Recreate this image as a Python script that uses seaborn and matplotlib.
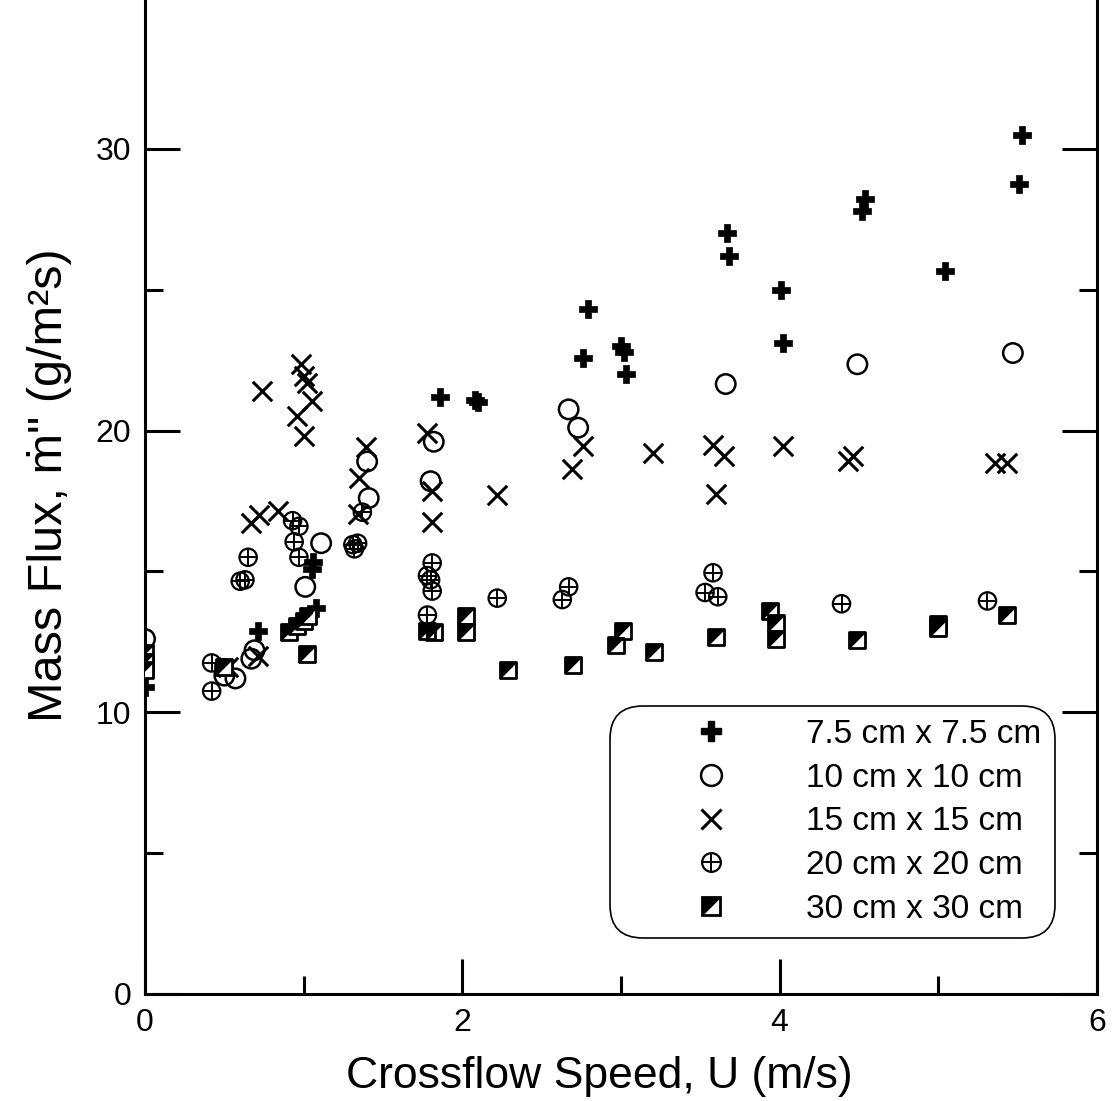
import matplotlib
matplotlib.use("Agg")
import matplotlib.pyplot as plt
import seaborn as sns
import numpy as np
import pandas as pd
from matplotlib.lines import Line2D
from matplotlib.path import Path
from matplotlib.ticker import FixedLocator

# ---- data ----
plus_x = [0, 0.49, 0.71, 1.05, 1.06, 1.08, 1.86, 2.08, 2.10, 2.76, 2.79, 3.00, 3.02, 3.03,
          3.67, 3.68, 4.01, 4.02, 4.52, 4.54, 5.04, 5.51, 5.53]
plus_y = [10.9, 11.6, 12.9, 15.1, 15.35, 13.7, 21.2, 21.07, 21.0, 22.56, 24.3, 23.0, 22.8, 22.0,
          27.0, 26.2, 25.0, 23.1, 27.8, 28.2, 25.65, 28.75, 30.5]

circ_x = [0, 0.50, 0.57, 0.67, 0.69, 1.01, 1.11, 1.40, 1.41, 1.80, 1.82, 2.67, 2.73, 3.66, 4.49, 5.47]
circ_y = [12.6, 11.3, 11.2, 11.9, 12.2, 14.45, 16.0, 18.9, 17.6, 18.2, 19.6, 20.75, 20.1, 21.65, 22.35, 22.75]

cross_x = [0.52, 0.71, 0.67, 0.72, 0.84, 0.74, 0.98, 1.0, 1.02, 1.05, 0.96, 1.0, 1.34, 1.35, 1.39,
           1.78, 1.81, 1.81, 2.22, 2.69, 2.76, 3.20, 3.58, 3.65, 3.60, 4.02, 4.43, 4.46, 5.36, 5.43]
cross_y = [11.6, 12.0, 16.7, 17.0, 17.15, 21.4, 22.35, 21.95, 21.7, 21.05, 20.5, 19.8, 17.05, 18.3, 19.4,
           19.9, 17.85, 16.75, 17.7, 18.65, 19.45, 19.2, 19.5, 19.1, 17.75, 19.45, 18.9, 19.1, 18.85, 18.85]

oplus_x = [0.42, 0.42, 0.60, 0.63, 0.65, 0.93, 0.97, 0.94, 0.97, 1.31, 1.32, 1.34, 1.37, 1.78, 1.81,
           1.80, 1.81, 1.78, 2.22, 2.63, 2.67, 3.53, 3.58, 3.61, 4.39, 5.31]
oplus_y = [11.75, 10.75, 14.65, 14.7, 15.5, 16.8, 16.6, 16.05, 15.5, 15.95, 15.8, 16.0, 17.1, 14.85, 15.3,
           14.7, 14.3, 13.45, 14.05, 14.0, 14.45, 14.25, 14.95, 14.1, 13.85, 13.95]

sq_x = [0, 0, 0, 0.50, 0.91, 0.96, 1.0, 1.03, 1.02, 1.82, 1.78, 2.02, 2.02, 2.29, 2.70, 2.97, 3.01,
        3.21, 3.60, 3.94, 3.98, 3.98, 4.49, 5.00, 5.00, 5.43]
sq_y = [12.1, 11.8, 11.5, 11.6, 12.85, 13.05, 13.25, 13.4, 12.07, 12.85, 12.9, 13.4, 12.85, 11.5, 11.67,
        12.4, 12.9, 12.15, 12.67, 13.6, 13.17, 12.6, 12.55, 13.13, 13.0, 13.45]

labels = ["7.5 cm x 7.5 cm", "10 cm x 10 cm", "15 cm x 15 cm", "20 cm x 20 cm", "30 cm x 30 cm"]
x_ticks = [0, 2, 4, 6]
x_minor = [1, 3, 5]
y_ticks = [0, 10, 20, 30]
y_minor = [5, 15, 25]

# ---- style ----
sns.set_style("ticks")
plt.rcParams['font.family'] = ['Liberation Sans', 'DejaVu Sans']
plt.rcParams['text.color'] = 'black'
plt.rcParams['axes.labelcolor'] = 'black'
plt.rcParams['xtick.color'] = 'black'
plt.rcParams['ytick.color'] = 'black'

fig = plt.figure(figsize=(11.19, 11.01), dpi=100)
ax = fig.add_axes([0.1296, 0.0972, 0.8507, 0.9028])

tri = Path([(-1, -1), (-1, 1), (1, 1), (-1, -1)], [Path.MOVETO, Path.LINETO, Path.LINETO, Path.CLOSEPOLY])

MS_PLUS = 13
MS_CIRC = 14
MS_X = 14
MS_OP = 12.5
MS_SQ = 12

sns.scatterplot(x=plus_x, y=plus_y, marker='P', s=MS_PLUS**2, color='black',
                edgecolor='black', linewidth=0.5, ax=ax, zorder=3)
sns.scatterplot(x=circ_x, y=circ_y, marker='o', s=MS_CIRC**2, facecolor='none',
                edgecolor='black', linewidth=1.8, ax=ax, zorder=3)
sns.scatterplot(x=cross_x, y=cross_y, marker='x', s=MS_X**2, color='black',
                linewidth=2.2, ax=ax, zorder=3)
sns.scatterplot(x=oplus_x, y=oplus_y, marker='o', s=MS_OP**2, facecolor='none',
                edgecolor='black', linewidth=1.6, ax=ax, zorder=3)
sns.scatterplot(x=oplus_x, y=oplus_y, marker='+', s=MS_OP**2, color='black',
                linewidth=1.4, ax=ax, zorder=3)
sns.scatterplot(x=sq_x, y=sq_y, marker='s', s=MS_SQ**2, facecolor='white',
                edgecolor='black', linewidth=2.0, ax=ax, zorder=3)
sns.scatterplot(x=sq_x, y=sq_y, marker=tri, s=MS_SQ**2, color='black',
                edgecolor='black', linewidth=0.8, ax=ax, zorder=3)

ax.set_xlim(0, 6)
ax.set_ylim(0, 35.28)
ax.set_xticks(x_ticks)
ax.set_yticks(y_ticks)
ax.xaxis.set_minor_locator(FixedLocator(x_minor))
ax.yaxis.set_minor_locator(FixedLocator(y_minor))
ax.tick_params(which='both', direction='in', top=False, right=True, width=2.2,
               labelsize=23, colors='black')
ax.tick_params(which='major', length=25, pad=10)
ax.tick_params(which='minor', length=13)
ax.spines['top'].set_visible(False)
for sp in ax.spines.values():
    sp.set_linewidth(2.2)
    sp.set_color('black')

ax.set_xlabel("Crossflow Speed, U (m/s)", fontsize=32)
ax.xaxis.set_label_coords(0.477, -0.062)
ax.set_ylabel("Mass Flux, \u1e41\" (g/m\u00b2s)", fontsize=35)
ax.yaxis.set_label_coords(-0.077, 0.512)

# ---- legend ----
h_plus = Line2D([], [], linestyle='none', marker='P', markersize=MS_PLUS + 1, color='black')
h_circ = Line2D([], [], linestyle='none', marker='o', markersize=MS_CIRC + 1, markerfacecolor='none',
                markeredgecolor='black', markeredgewidth=1.8)
h_x = Line2D([], [], linestyle='none', marker='x', markersize=MS_X + 1, color='black', markeredgewidth=2.2)
h_op1 = Line2D([], [], linestyle='none', marker='o', markersize=MS_OP + 1, markerfacecolor='none',
               markeredgecolor='black', markeredgewidth=1.6)
h_op2 = Line2D([], [], linestyle='none', marker='+', markersize=MS_OP + 1, color='black', markeredgewidth=1.4)
h_sq1 = Line2D([], [], linestyle='none', marker='s', markersize=MS_SQ + 1, markerfacecolor='white',
               markeredgecolor='black', markeredgewidth=2.0)
h_sq2 = Line2D([], [], linestyle='none', marker=tri, markersize=MS_SQ + 1, color='black', markeredgewidth=0.8)

leg = ax.legend([h_plus, h_circ, h_x, (h_op1, h_op2), (h_sq1, h_sq2)], labels,
                loc='lower right', bbox_to_anchor=(0.956, 0.0563), fontsize=24,
                frameon=True, fancybox=True, framealpha=1, edgecolor='black',
                handlelength=5.3, handletextpad=0.2, borderpad=0.4, labelspacing=0.38,
                borderaxespad=0)
leg.get_frame().set_linewidth(1.2)
leg.get_frame().set_boxstyle('round,pad=0.0,rounding_size=1.0')

fig.savefig("out.png", dpi=100, facecolor='white')
